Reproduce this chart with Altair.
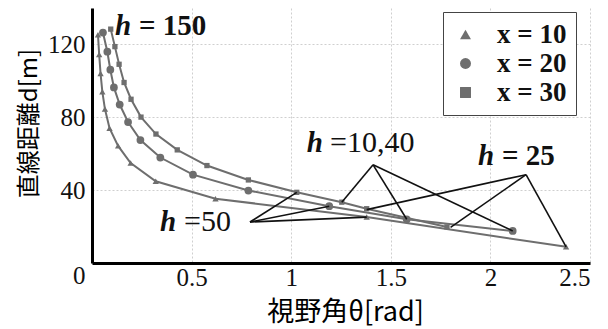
import altair as alt
import pandas as pd

# ---- data ----
series_names = ["x = 10", "x = 20", "x = 30"]
series_sizes = [40, 60, 28]

theta_x10 = [0.030, 0.036, 0.043, 0.052, 0.065, 0.088, 0.131, 0.194, 0.320, 0.620, 1.379, 2.380]
d_x10 = [125.3, 114.5, 104.0, 94.0, 84.5, 74.0, 64.3, 54.9, 44.9, 35.3, 25.2, 8.9]

theta_x20 = [0.055, 0.077, 0.092, 0.110, 0.139, 0.181, 0.243, 0.343, 0.507, 0.785, 1.191, 1.580, 2.112]
d_x20 = [126.5, 116.0, 106.1, 96.4, 87.0, 77.4, 67.5, 57.9, 48.5, 39.8, 31.2, 24.0, 17.6]

theta_x30 = [0.094, 0.115, 0.136, 0.161, 0.196, 0.246, 0.321, 0.428, 0.577, 0.785, 1.028, 1.254, 1.379, 1.782]
d_x30 = [128.4, 118.8, 109.1, 99.1, 89.9, 80.1, 70.8, 62.1, 53.5, 45.6, 38.8, 33.4, 29.8, 19.8]

# annotation leader lines: start (label anchor) -> target point
ann_from_theta = [0.793, 0.793, 0.793, 1.411, 1.411, 1.411, 2.179, 2.179, 2.179]
ann_from_d = [22.5, 22.5, 22.5, 53.9, 53.9, 53.9, 48.5, 48.5, 48.5]
ann_to_theta = [1.028, 1.191, 1.379, 1.254, 1.580, 2.112, 1.379, 1.800, 2.380]
ann_to_d = [38.8, 31.2, 25.2, 33.4, 24.0, 17.6, 29.3, 19.6, 8.9]

# annotation texts ("h" part and remainder)
h_theta = [0.115, 1.078, 1.938, 0.341]
h_d = [130.0, 66.1, 59.0, 22.4]
rest_text = ["= 150", "=10,40", "= 25", "=50"]
rest_theta = [0.236, 1.195, 2.058, 0.462]
rest_d = [130.0, 66.1, 59.0, 22.4]
rest_bold = [True, False, True, False]

# ---- build tables ----
rows = []
for name, th, dd in zip(series_names, [theta_x10, theta_x20, theta_x30], [d_x10, d_x20, d_x30]):
    for t, d in zip(th, dd):
        rows.append({"series": name, "theta": t, "d": d})
df = pd.DataFrame(rows)

seg = pd.DataFrame({"t1": ann_from_theta, "d1": ann_from_d, "t2": ann_to_theta, "d2": ann_to_d})
hdf = pd.DataFrame({"theta": h_theta, "d": h_d, "text": ["h"] * len(h_theta)})
rdf = pd.DataFrame({"theta": rest_theta, "d": rest_d, "text": rest_text, "bold": rest_bold})

GRAY = "#6e6e6e"
SERIF = "Liberation Serif"

xscale = alt.Scale(domain=[0, 2.5], nice=False, zero=False)
yscale = alt.Scale(domain=[0, 140], nice=False)

x_axis = alt.Axis(
    values=[0, 0.5, 1, 1.5, 2, 2.5],
    labelExpr="datum.value == 0 ? '' : toString(datum.value)",
    title="視野角θ[rad]",
    titleFont="Noto Sans CJK JP", titleFontSize=27, titleFontWeight="normal",
    titleX=253, titleY=49, titleAlign="center", titleBaseline="middle",
    labelFont=SERIF, labelFontSize=25, labelColor="#111", labelPadding=2,
    domainColor="#000", domainWidth=3, ticks=False,
    gridColor="#cfcfcf", gridDash=[2, 2], gridWidth=1,
)
y_axis = alt.Axis(
    values=[0, 20, 40, 60, 80, 100, 120, 140],
    labelExpr="datum.value % 40 == 0 ? toString(datum.value) : ''",
    labelBaseline={"condition": {"test": "datum.value == 0", "value": "top"}, "value": "middle"},
    title="直線距離d[m]",
    titleFont="Noto Sans CJK JP", titleFontSize=24, titleFontWeight="normal",
    titleX=-63, titleY=115, titleAngle=-90, titleAlign="center", titleBaseline="middle",
    labelFont=SERIF, labelFontSize=25, labelColor="#111", labelPadding=7,
    domainColor="#000", domainWidth=3, ticks=False,
    gridColor="#cfcfcf", gridDash=[2, 2], gridWidth=1,
)

shape_enc = alt.Shape(
    "series:N",
    scale=alt.Scale(domain=series_names, range=["triangle-up", "circle", "square"]),
    legend=alt.Legend(
        title=None, orient="none", legendX=351, legendY=4,
        strokeColor="#444", fillColor="white", padding=9,
        labelFont=SERIF, labelFontSize=27, labelFontWeight="bold", labelColor="#111",
        symbolSize=120, symbolFillColor="#666", symbolStrokeColor="#666",
        symbolStrokeWidth=0, labelOffset=18, rowPadding=1, labelLimit=200,
    ),
)

lines = alt.Chart(df).mark_line(color=GRAY, strokeWidth=2).encode(
    x=alt.X("theta:Q", scale=xscale, axis=x_axis),
    y=alt.Y("d:Q", scale=yscale, axis=y_axis),
    detail="series:N",
    order="theta:Q",
)

point_layers = []
for name, s in zip(series_names, series_sizes):
    point_layers.append(
        alt.Chart(df[df["series"] == name]).mark_point(
            filled=True, opacity=1, color=GRAY, size=s
        ).encode(x="theta:Q", y="d:Q", shape=shape_enc)
    )

rules = alt.Chart(seg).mark_rule(color="#111", strokeWidth=1.6).encode(
    x="t1:Q", y="d1:Q", x2="t2:Q", y2="d2:Q"
)

h_text = alt.Chart(hdf).mark_text(
    font=SERIF, fontSize=29, fontWeight="bold", fontStyle="italic",
    align="left", baseline="middle", color="#111",
).encode(x="theta:Q", y="d:Q", text="text:N")

rest_bold_text = alt.Chart(rdf[rdf["bold"]]).mark_text(
    font=SERIF, fontSize=29, fontWeight="bold",
    align="left", baseline="middle", color="#111",
).encode(x="theta:Q", y="d:Q", text="text:N")

rest_norm_text = alt.Chart(rdf[~rdf["bold"]]).mark_text(
    font=SERIF, fontSize=30, fontWeight="normal",
    align="left", baseline="middle", color="#111",
).encode(x="theta:Q", y="d:Q", text="text:N")

chart = alt.layer(lines, *point_layers, rules, h_text, rest_bold_text, rest_norm_text).properties(
    width=498, height=255,
    autosize=alt.AutoSizeParams(type="none"),
    padding={"left": 84, "top": 0, "right": 10, "bottom": 66},
).configure_view(stroke=None)

chart.save("out.html", embed_options={"renderer": "svg", "actions": False})
